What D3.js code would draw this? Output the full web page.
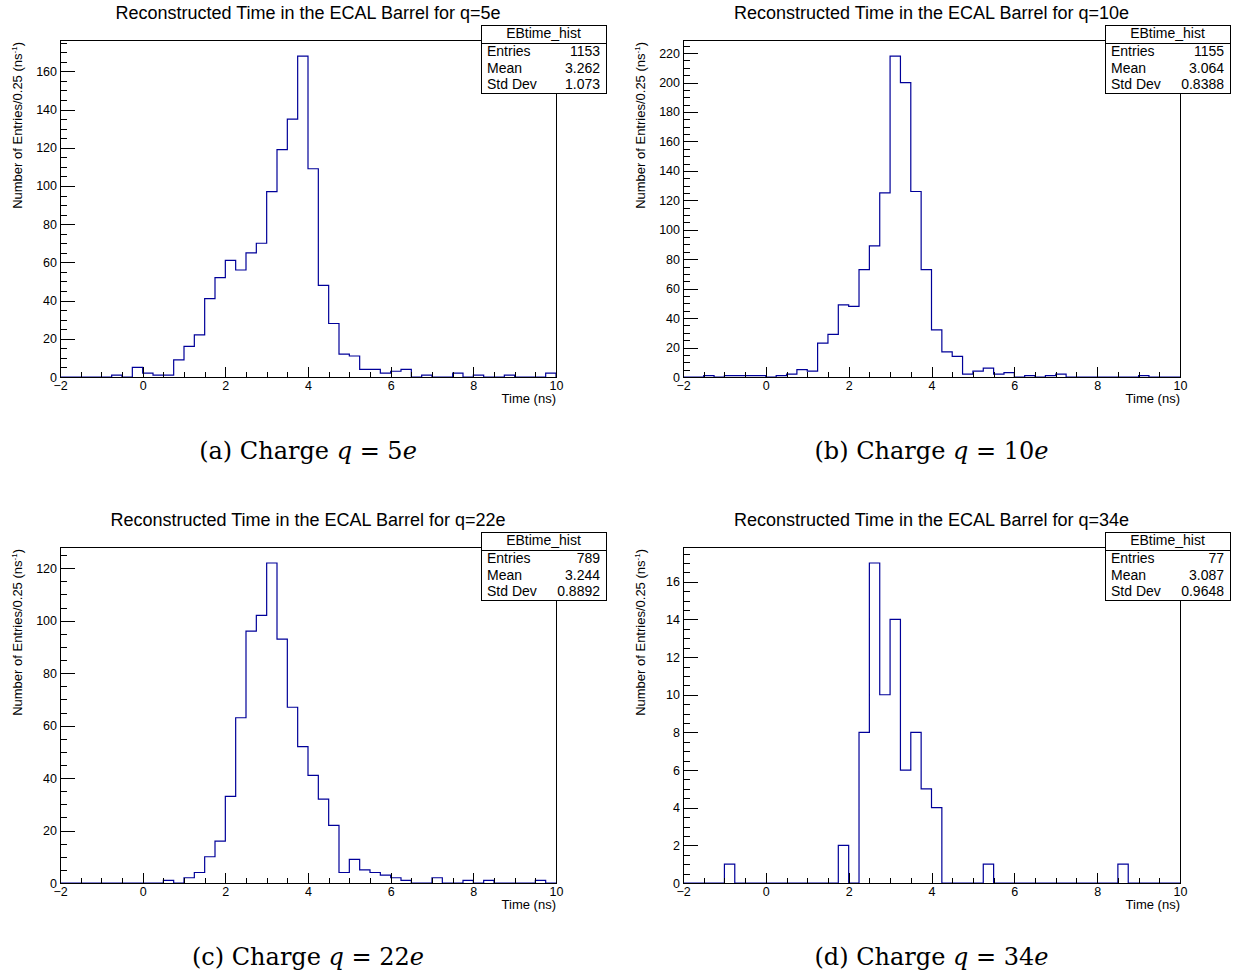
<!DOCTYPE html>
<html><head><meta charset="utf-8">
<script src="https://cdn.jsdelivr.net/npm/d3@7"></script>
<style>body{margin:0;background:#fff}</style>
</head><body>
<svg id="c" width="1233" height="977" xmlns="http://www.w3.org/2000/svg"></svg>
<script>
// ---- data (48 bins of 0.25 ns from -2 to 10) ----
const binLow = -2, binHigh = 10, binWidth = 0.25;
const countsQ5  = [0,0,0,0,0,1,0,5,2,1,1,9,16,22,41,52,61,56,65,70,97,119,135,168,109,48,28,12,11,4,4,2,3,4,0,1,0,0,2,0,1,0,0,1,0,0,0,2];
const countsQ10 = [0,0,1,0,1,1,1,1,0,1,2,5,4,23,29,49,48,73,89,125,218,200,126,73,32,17,14,2,4,6,2,3,0,1,0,1,2,0,0,0,0,0,0,0,1,0,0,0];
const countsQ22 = [0,0,0,0,0,0,0,0,0,0,1,0,2,4,10,16,33,63,96,102,122,93,67,52,41,32,22,4,9,5,4,3,2,1,0,0,2,0,0,1,0,1,0,0,0,0,1,0];
const countsQ34 = [0,0,0,0,1,0,0,0,0,0,0,0,0,0,0,2,0,8,17,10,14,6,8,5,4,0,0,0,0,1,0,0,0,0,0,0,0,0,0,0,0,0,1,0,0,0,0,0];
const xTickValues = [-2,0,2,4,6,8,10];
const yTicksQ5  = [0,20,40,60,80,100,120,140,160];
const yTicksQ10 = [0,20,40,60,80,100,120,140,160,180,200,220];
const yTicksQ22 = [0,20,40,60,80,100,120];
const yTicksQ34 = [0,2,4,6,8,10,12,14,16];
const yMinorSteps = [5,5,5,0.5];
const titles = ["Reconstructed Time in the ECAL Barrel for q=5e","Reconstructed Time in the ECAL Barrel for q=10e",
                "Reconstructed Time in the ECAL Barrel for q=22e","Reconstructed Time in the ECAL Barrel for q=34e"];
const captionLetters = ["(a)","(b)","(c)","(d)"];
const captionCharges = ["5","10","22","34"];
const statName = "EBtime_hist";
const statEntries = ["1153","1155","789","77"];
const statMeans = ["3.262","3.064","3.244","3.087"];
const statStdDevs = ["1.073","0.8388","0.8892","0.9648"];
const xTitle = "Time (ns)";
const yTitle = "Number of Entries/0.25 (ns";

// ---- layout ----
const frames = [{l:60,t:40,r:556,b:377},{l:683,t:40,r:1180,b:377},{l:60,t:547,r:556,b:883},{l:683,t:547,r:1180,b:883}];
const allCounts = [countsQ5,countsQ10,countsQ22,countsQ34];
const allYTicks = [yTicksQ5,yTicksQ10,yTicksQ22,yTicksQ34];
const FONT = "'Liberation Sans', Arial, Helvetica, sans-serif";
const HCOL = "#000099";

const svg = d3.select("#c");
const binEdges = d3.range(0, countsQ5.length).map(i => binLow + i*binWidth);

frames.forEach((f, p) => {
  const counts = allCounts[p];
  const ymax = d3.max(counts) * 1.05;
  const x = d3.scaleLinear().domain([binLow, binHigh]).range([f.l, f.r]);
  const y = d3.scaleLinear().domain([0, ymax]).range([f.b, f.t]);
  const g = svg.append("g");
  const W = f.r - f.l, H = f.b - f.t;

  // histogram step line
  const pts = [[binLow, 0]].concat(counts.map((c,i)=>[binEdges[i], c])).concat([[binHigh, counts[counts.length-1]],[binHigh,0]]);
  const line = d3.line().x(d=>x(d[0])).y(d=>y(d[1])).curve(d3.curveStepAfter);
  g.append("path").attr("d", line(pts)).attr("fill","none").attr("stroke",HCOL).attr("stroke-width",1.2);

  // frame
  g.append("rect").attr("x",f.l).attr("y",f.t).attr("width",W).attr("height",H)
    .attr("fill","none").attr("stroke","#000").attr("stroke-width",1).attr("shape-rendering","crispEdges");

  // y axis
  const yMinor = d3.range(0, ymax, yMinorSteps[p]);
  const yMin = g.append("g").attr("transform",`translate(${f.l},0)`)
    .call(d3.axisLeft(y).tickValues(yMinor).tickSize(-0.015*W).tickFormat(""));
  const yMaj = g.append("g").attr("transform",`translate(${f.l},0)`)
    .call(d3.axisLeft(y).tickValues(allYTicks[p]).tickSize(-0.03*W).tickPadding(3).tickFormat(d3.format("d")));
  // x axis
  const xMinor = d3.range(binLow, binHigh + 1e-9, 0.5);
  const xMin = g.append("g").attr("transform",`translate(0,${f.b})`)
    .call(d3.axisBottom(x).tickValues(xMinor).tickSize(-0.015*H).tickFormat(""));
  const xMaj = g.append("g").attr("transform",`translate(0,${f.b})`)
    .call(d3.axisBottom(x).tickValues(xTickValues).tickSize(-0.03*H).tickPadding(4).tickFormat(d3.format("d")));
  [yMin,yMaj,xMin,xMaj].forEach(a => {
    a.select(".domain").remove();
    a.selectAll("line").attr("stroke","#000").attr("shape-rendering","crispEdges");
    a.selectAll("text").attr("font-family",FONT).attr("font-size",12.5).attr("fill","#000");
  });

  // axis titles
  g.append("text").attr("x",f.r).attr("y",f.b+25.5).attr("text-anchor","end")
    .attr("font-family",FONT).attr("font-size",13).text(xTitle);
  const yt = g.append("text").attr("transform",`translate(${f.l-38},${f.t+2}) rotate(-90)`)
    .attr("text-anchor","end").attr("font-family",FONT).attr("font-size",13);
  yt.append("tspan").text(yTitle);
  yt.append("tspan").attr("dy",-5).attr("font-size",8).text("-1");
  yt.append("tspan").attr("dy",5).text(")");

  // title
  svg.append("text").attr("x",(f.l+f.r)/2).attr("y",f.t-21).attr("text-anchor","middle")
    .attr("font-family",FONT).attr("font-size",18).text(titles[p]);

  // stats box
  const bx0 = f.r-75, bx1 = f.r+50, by0 = f.t-15, by1 = f.t+53, hy = f.t+3;
  g.append("rect").attr("x",bx0).attr("y",by0).attr("width",bx1-bx0).attr("height",by1-by0)
    .attr("fill","#fff").attr("stroke","#000").attr("shape-rendering","crispEdges");
  g.append("line").attr("x1",bx0).attr("x2",bx1).attr("y1",hy).attr("y2",hy)
    .attr("stroke","#000").attr("shape-rendering","crispEdges");
  g.append("text").attr("x",(bx0+bx1)/2).attr("y",f.t-2).attr("text-anchor","middle")
    .attr("font-family",FONT).attr("font-size",14).text(statName);
  const rows = [["Entries",statEntries[p]],["Mean",statMeans[p]],["Std Dev",statStdDevs[p]]];
  rows.forEach((r,i) => {
    const yy = f.t + 16 + i*16.5;
    g.append("text").attr("x",bx0+6).attr("y",yy).attr("font-family",FONT).attr("font-size",14).text(r[0]);
    g.append("text").attr("x",bx1-6).attr("y",yy).attr("text-anchor","end").attr("font-family",FONT).attr("font-size",14).text(r[1]);
  });

  // caption
  const cap = svg.append("text").attr("x",(f.l+f.r)/2).attr("y",f.b+82).attr("text-anchor","middle")
    .attr("font-family","'DejaVu Serif', 'Liberation Serif', serif").attr("font-size",24);
  cap.append("tspan").text(captionLetters[p] + " Charge ");
  cap.append("tspan").attr("font-style","italic").text("q");
  cap.append("tspan").text(" = " + captionCharges[p]);
  cap.append("tspan").attr("font-style","italic").text("e");
});
</script>
</body></html>
